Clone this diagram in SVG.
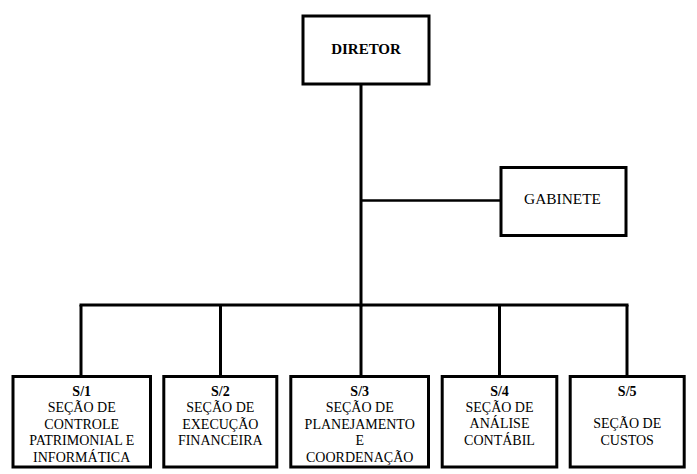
<svg xmlns="http://www.w3.org/2000/svg" width="697" height="474" viewBox="0 0 697 474">
<style>
.box{fill:#fff;stroke:#000;stroke-width:3}
.ln{stroke:#000;stroke-width:3;fill:none}
.t{font-family:"Liberation Serif","Times New Roman",serif;font-size:14px;text-anchor:middle;fill:#000}
.b{font-weight:bold}
</style>
<rect width="697" height="474" fill="#fff"/>
<g id="connectors">
<line class="ln" x1="361" y1="85" x2="361" y2="306.5"/>
<line class="ln" x1="361" y1="200.5" x2="500" y2="200.5" style="stroke-width:2.5"/>
<line class="ln" x1="79.5" y1="305" x2="628.5" y2="305"/>
<line class="ln" x1="81" y1="305" x2="81" y2="376"/>
<line class="ln" x1="220.5" y1="305" x2="220.5" y2="376"/>
<line class="ln" x1="361" y1="305" x2="361" y2="376"/>
<line class="ln" x1="499.5" y1="305" x2="499.5" y2="376"/>
<line class="ln" x1="627" y1="305" x2="627" y2="376"/>
</g>
<g id="diretor">
<rect class="box" x="303" y="16" width="126" height="68"/>
<text class="t b" x="366" y="54" style="font-size:15px">DIRETOR</text>
</g>
<g id="gabinete">
<rect class="box" x="501" y="167.5" width="125" height="68"/>
<text class="t" x="562.5" y="204" style="font-size:15.4px">GABINETE</text>
</g>
<g id="s1">
<rect class="box" x="13" y="376.5" width="137.5" height="90.5"/>
<text class="t" x="81.7"><tspan class="b" x="81.7" y="396">S/1</tspan><tspan x="81.7" y="412.4">SEÇÃO DE</tspan><tspan x="81.7" y="428.8">CONTROLE</tspan><tspan x="81.7" y="445.2">PATRIMONIAL E</tspan><tspan x="81.7" y="461.6">INFORMÁTICA</tspan></text>
</g>
<g id="s2">
<rect class="box" x="163.8" y="376.5" width="113" height="90.5"/>
<text class="t" x="220.3"><tspan class="b" x="220.3" y="396">S/2</tspan><tspan x="220.3" y="412.4">SEÇÃO DE</tspan><tspan x="220.3" y="428.8">EXECUÇÃO</tspan><tspan x="220.3" y="445.2">FINANCEIRA</tspan></text>
</g>
<g id="s3">
<rect class="box" x="290.8" y="376.5" width="137.7" height="90.5"/>
<text class="t" x="359.7"><tspan class="b" x="359.7" y="396">S/3</tspan><tspan x="359.7" y="412.4">SEÇÃO DE</tspan><tspan x="359.7" y="428.8">PLANEJAMENTO</tspan><tspan x="359.7" y="445.2">E</tspan><tspan x="359.7" y="461.6">COORDENAÇÃO</tspan></text>
</g>
<g id="s4">
<rect class="box" x="442.2" y="376.5" width="114.6" height="90.5"/>
<text class="t" x="499.5"><tspan class="b" x="499.5" y="396">S/4</tspan><tspan x="499.5" y="412.4">SEÇÃO DE</tspan><tspan x="499.5" y="428.3">ANÁLISE</tspan><tspan x="499.5" y="444.5">CONTÁBIL</tspan></text>
</g>
<g id="s5">
<rect class="box" x="570.2" y="376.5" width="114" height="90.5"/>
<text class="t" x="627.2"><tspan class="b" x="627.2" y="396">S/5</tspan><tspan x="627.2" y="428.3">SEÇÃO DE</tspan><tspan x="627.2" y="444.5">CUSTOS</tspan></text>
</g>
</svg>
